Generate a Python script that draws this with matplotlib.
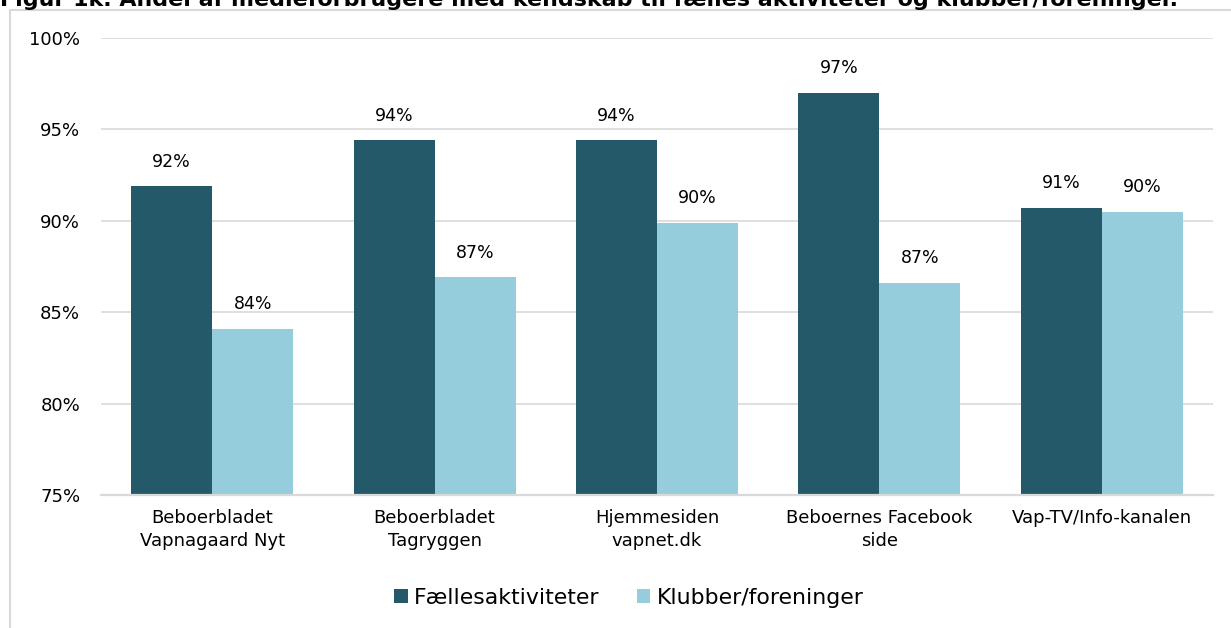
import matplotlib.pyplot as plt
import numpy as np
from matplotlib.patches import Rectangle

# data
categories = ['Beboerbladet\nVapnagaard Nyt', 'Beboerbladet\nTagryggen', 'Hjemmesiden\nvapnet.dk',
              'Beboernes Facebook\nside', 'Vap-TV/Info-kanalen']
faelles = [91.9, 94.4, 94.4, 97.0, 90.7]
klubber = [84.1, 86.9, 89.9, 86.6, 90.5]
series_names = ['Fællesaktiviteter', 'Klubber/foreninger']
yticks = [75, 80, 85, 90, 95, 100]

dark = '#235968'
light = '#96cddd'
grid = '#d9d9d9'

plt.rcParams['font.family'] = 'DejaVu Sans'

fig = plt.figure(figsize=(12.31, 6.28), dpi=100)
ax = fig.add_axes([101 / 1231, 1 - 495 / 628, 1112 / 1231, 457 / 628])

x = np.arange(len(categories))
w = 0.364
b1 = ax.bar(x - w / 2, np.array(faelles) - 75, w, bottom=75, color=dark, label=series_names[0], zorder=3)
b2 = ax.bar(x + w / 2, np.array(klubber) - 75, w, bottom=75, color=light, label=series_names[1], zorder=3)

for bars, vals in [(b1, faelles), (b2, klubber)]:
    for r, v in zip(bars, vals):
        ax.text(r.get_x() + r.get_width() / 2, v + 0.85, '{:.0f}%'.format(v),
                ha='center', va='bottom', fontsize=12.5)

ax.set_xlim(-0.5, len(categories) - 0.5)
ax.set_ylim(75, 100)
ax.set_yticks(yticks)
ax.set_yticklabels(['{}%'.format(t) for t in yticks], fontsize=13)
ax.set_xticks(x)
ax.set_xticklabels(categories, fontsize=13, linespacing=1.35)
ax.tick_params(length=0)
ax.tick_params(axis='y', pad=15)
ax.tick_params(axis='x', pad=10)
ax.yaxis.grid(True, color=grid, lw=1.2, zorder=0)
for s in ['top', 'right', 'left']:
    ax.spines[s].set_visible(False)
ax.spines['bottom'].set_color(grid)
ax.spines['bottom'].set_linewidth(1.6)
ax.spines['bottom'].set_zorder(4)

leg = fig.legend(handles=[b1, b2], loc='center', bbox_to_anchor=(629 / 1231, 1 - 598 / 628),
                 ncol=2, frameon=False, fontsize=15.8, handlelength=0.6, handleheight=0.6,
                 handletextpad=0.3, columnspacing=1.7)

# outer chart frame, partly outside the image
fig.patches.append(Rectangle((10 / 1231, -0.1), 1.2, 1 - 10 / 628 + 0.1, transform=fig.transFigure,
                             fill=False, edgecolor=grid, lw=1.5))

# title sits mostly above the image, only its lower part shows
fig.text(0.0, 1 - 6 / 628,
         'Figur 1k. Andel af medieforbrugere med kendskab til fælles aktiviteter og klubber/foreninger.',
         fontsize=15.9, fontweight='bold', ha='left', va='baseline')

fig.savefig('out.png', dpi=100)
